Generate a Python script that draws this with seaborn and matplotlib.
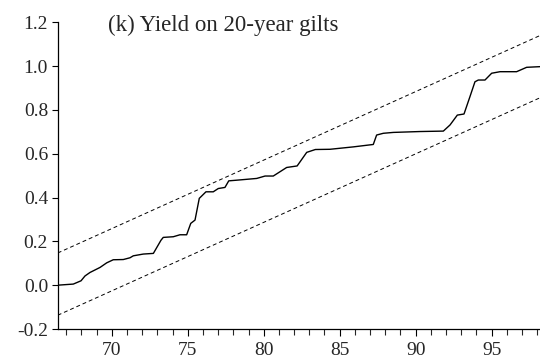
import numpy as np
import pandas as pd
import matplotlib
matplotlib.use("Agg")
import matplotlib.pyplot as plt
import seaborn as sns
from matplotlib.ticker import MultipleLocator, FuncFormatter

# CUSUM of squares (x in years, 19xx)
years = [66.45, 67.47, 67.98, 68.24, 68.57, 69.23, 69.67, 70.10, 70.76, 71.20,
         71.42, 72.08, 72.74, 73.24, 73.39, 74.05, 74.49, 74.93, 75.20, 75.48,
         75.76, 76.20, 76.68, 77.01, 77.45, 77.70, 78.22, 79.54, 80.09, 80.63,
         81.51, 82.20, 82.83, 83.40, 84.36, 85.90, 87.21, 87.43, 87.87, 88.53,
         90.28, 91.82, 92.26, 92.74, 93.18, 93.57, 93.90, 94.12, 94.56, 95.00,
         95.55, 96.64, 97.30, 98.18]
cusum_sq = [0.000, 0.005, 0.020, 0.042, 0.058, 0.081, 0.102, 0.116, 0.117, 0.125,
            0.134, 0.142, 0.145, 0.205, 0.218, 0.221, 0.230, 0.230, 0.282, 0.297,
            0.396, 0.426, 0.426, 0.441, 0.446, 0.476, 0.479, 0.487, 0.498, 0.498,
            0.537, 0.544, 0.606, 0.619, 0.620, 0.631, 0.642, 0.685, 0.693, 0.697,
            0.701, 0.703, 0.731, 0.776, 0.781, 0.860, 0.928, 0.936, 0.936, 0.967,
            0.974, 0.974, 0.994, 0.997]
band_start = 0.005
band_end = 0.997
band_width = 0.142
title = "(k) Yield on 20-year gilts"

df = pd.DataFrame({"year": years, "cusum": cusum_sq})
x0, x1 = years[0], years[-1]
bands = pd.DataFrame({"year": [x0, x1],
                      "upper": [band_start + band_width, band_end + band_width],
                      "lower": [band_start - band_width, band_end - band_width]})

sns.set_style("ticks")
plt.rcParams["font.family"] = ["Liberation Serif", "DejaVu Serif"]

fig = plt.figure(figsize=(5.4, 3.61), dpi=100)
ax = fig.add_axes([0.107, 0.0886, 0.893, 0.85])

sns.lineplot(data=df, x="year", y="cusum", color="black", linewidth=1.0, ax=ax)
sns.lineplot(data=bands, x="year", y="upper", color="black", linewidth=0.7,
             linestyle=(0, (4, 3)), ax=ax)
sns.lineplot(data=bands, x="year", y="lower", color="black", linewidth=0.7,
             linestyle=(0, (4, 3)), ax=ax)

ax.set_xlim(x0, x1)
ax.set_ylim(-0.2, 1.2)
ax.xaxis.set_major_locator(MultipleLocator(5))
ax.xaxis.set_minor_locator(MultipleLocator(1))
ax.yaxis.set_major_locator(MultipleLocator(0.2))
ax.yaxis.set_major_formatter(FuncFormatter(lambda v, p: f"{v:.1f}".replace("\u2212", "-")))
ax.xaxis.set_major_formatter(FuncFormatter(lambda v, p: f"{int(round(v))}"))

ax.tick_params(axis="both", labelsize=14, color="black", width=0.8)
ax.tick_params(axis="x", which="major", length=5, pad=4)
ax.tick_params(axis="x", which="minor", length=4, width=0.8)
ax.tick_params(axis="y", length=4, pad=3)

sns.despine(ax=ax)
for s in ("left", "bottom"):
    ax.spines[s].set_linewidth(0.9)
    ax.spines[s].set_color("black")

ax.set_xlabel("")
ax.set_ylabel("")
ax.text(0.105, 0.99, title, transform=ax.transAxes, fontsize=16.5,
        ha="left", va="center")

fig.savefig("out.png", dpi=100)
